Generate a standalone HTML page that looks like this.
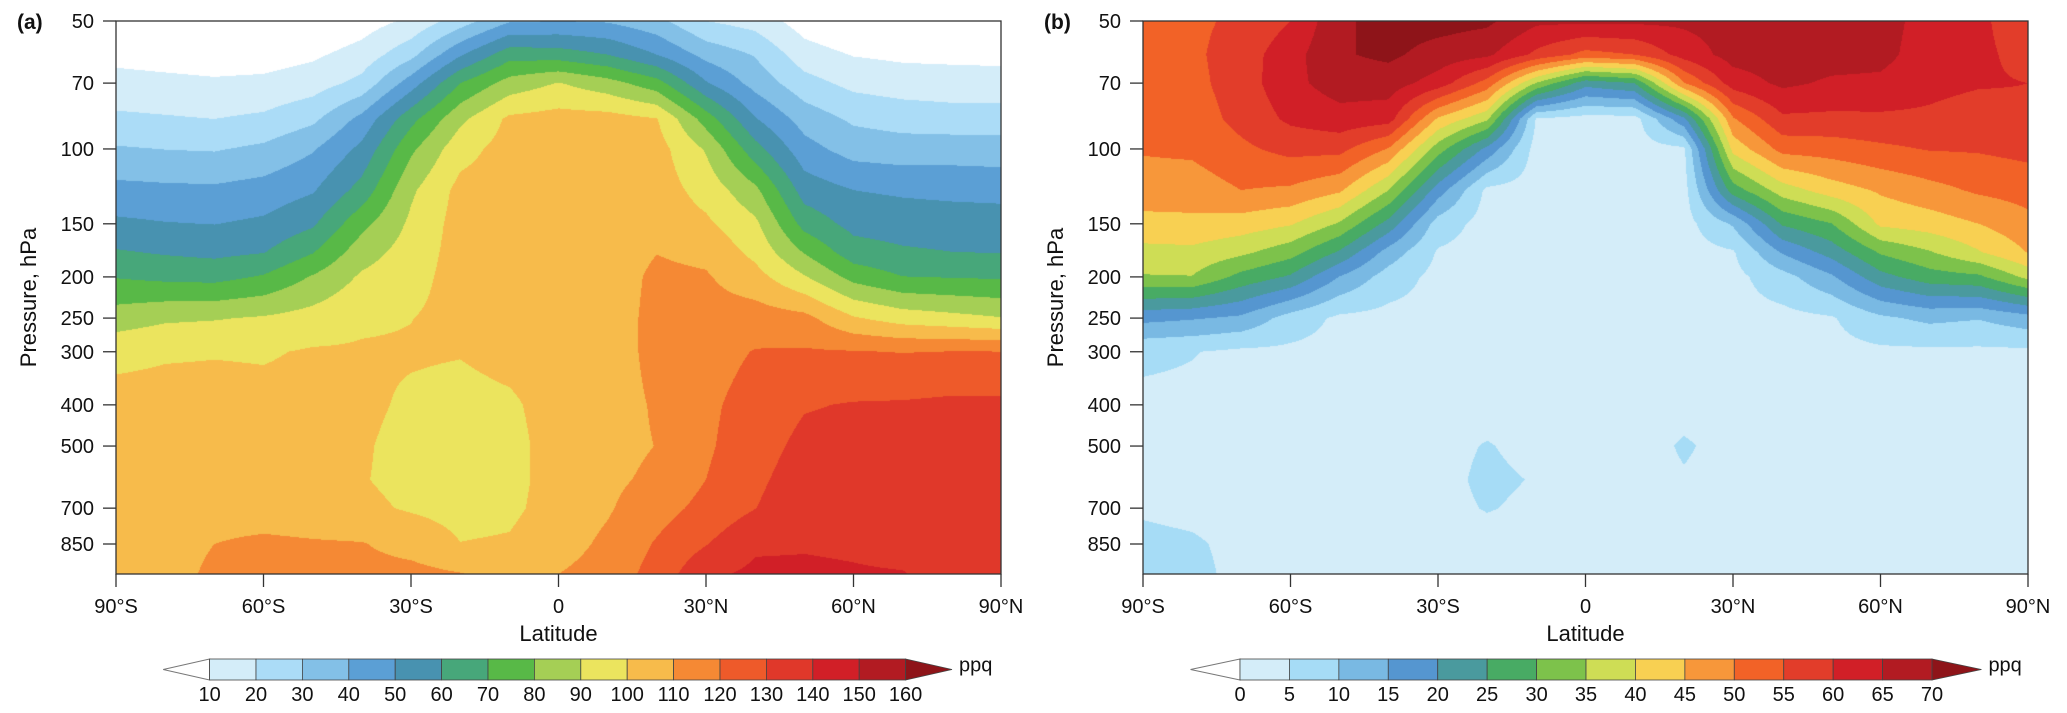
<!DOCTYPE html>
<html><head><meta charset="utf-8">
<style>
html,body{margin:0;padding:0;background:#fff;}
#root{position:relative;width:2067px;height:713px;overflow:hidden;font-family:"Liberation Sans",Arial,sans-serif;}
canvas{position:absolute;}
svg{position:absolute;left:0;top:0;}
</style></head>
<body>
<div id="root">
<canvas id="cA" width="885" height="553" style="left:116px;top:21px"></canvas>
<canvas id="cB" width="885" height="553" style="left:1143px;top:21px"></canvas>
<svg id="ov" width="2067" height="713"></svg>
</div>
<script>
const latitudes = [-90,-80,-70,-60,-50,-40,-30,-20,-10,0,10,20,30,40,50,60,70,80,90];
const pressureLevels = [50,60,70,85,100,125,150,175,200,250,300,400,500,600,700,850,1000];
const yTickLabels = [50,70,100,150,200,250,300,400,500,700,850];
const xTickValues = [-90,-60,-30,0,30,60,90];
const xTickLabels = ["90°S","60°S","30°S","0","30°N","60°N","90°N"];
const levelsA = [10,20,30,40,50,60,70,80,90,100,110,120,130,140,150,160];
const levelsB = [0,5,10,15,20,25,30,35,40,45,50,55,60,65,70];
const colorsA = ['#ffffff','#d4edf9','#abdcf7','#83c0e7','#5b9fd5','#4892b0','#47a77a','#58b947','#a5cf55','#ebe45e','#f7bb4b','#f58934','#ee5a2a','#e0382a','#d11f27','#b21b22','#8e1419'];
const colorsB = ['#ffffff','#d4edf9','#a6dcf6','#79b9e3','#5596d0','#4a9a9e','#48ab64','#7dc24b','#cedd55','#f8d052','#f7973a','#f26227','#e23d2a','#d11f27','#b21b22','#8e1419'];
// values per latitude column, ordered by pressureLevels (ppq)
const valuesA = [
[2,7,13.5,22,31,43,52,61,69.5,85,97,104,105,105,105,104,104],
[0,6,12.4,21,29.8,42.2,50.5,59,67.6,88.4,98.8,104,105,105,105,106,106],
[0,5,11.4,20,29.2,41.8,49.8,57.6,66.8,89.3,99.3,104,105,105,106,110,112],
[0,5.4,12.2,21.9,32,44,51.9,59.6,71,91,99,103,104,104,105,112,113],
[0,8.3,15.3,27.7,39,49,58.5,69.4,80.9,94,101,103,103,103,104,111,112],
[5,14,23,43,52.5,63.8,77,85.6,91.5,98.4,101,102,101,100.5,102,110.5,113],
[12,27,45,66.8,78,88.3,92,94.5,96.5,99.8,101,98.5,97,97.5,99,106.5,113],
[25,48.8,70,87.7,96.3,103,104,104,104,103,100.5,97,96,96.5,97,100.2,110.5],
[39,66,84,102,104,105,105,105,105,105,103,98.5,97,97,98,101,106],
[40,65,90.5,104,105,105,105,105,105,105,104,104,104,104,104,106,110],
[39,60,84,104,105,105,105,105,105,105,105,106,107,108,109,112,114],
[33,50,74,100.5,104,105,106,109.8,112,113,113,111,110.2,112,116,121,124],
[20,36.7,51,75.5,89,96.3,101.8,107.6,111,114,116,118,118.5,120,123,129.5,138],
[16,29.3,36.3,50.7,63.8,82.5,92.2,97.3,103.7,115,120.5,124,126,128,129.8,138.5,142],
[5,14.5,23.7,35.8,43.7,55.5,66.4,79.3,90.9,113,121,129.3,132.5,134.8,136.7,139,142],
[0,9.5,17.2,28.3,35.8,50,56.8,64.5,76.5,101,120.6,130.6,132.9,134.8,136.4,138.4,141],
[0,8,15,26,34.4,48.5,55.3,61.4,70.2,95.5,119.7,131,132.5,134,135,136.5,140.5],
[0,7.6,14.4,24.6,35,47.6,54.7,60.1,69.5,93,120.3,132,133,134,134.5,135,136],
[0,7.3,14,24.6,34.4,47.1,54.3,59.7,68.8,90.5,120.2,132,133,134,134,135,135]
];
const valuesB = [
[53,53,52.5,51.5,50.5,47.5,43.5,38.4,34.6,16.5,5.9,4,4,4,4.5,6,6.5],
[54,54,53.5,52.5,51,47.3,43.9,38.7,34.8,15.5,5.2,4,4,4,4,5.5,6],
[56,57.5,57.5,56.5,54,50,42.7,36.1,28.4,14,4,3.5,3.5,3.5,3.5,4,4],
[60,63,63.5,61,56.5,49.2,40.5,32,24.3,7.8,4,3.5,3.5,3.5,3.5,3.5,3.5],
[69,69.5,67.5,63,56.5,45.8,34.4,24.3,14.8,4,3.5,3.5,3.5,3.5,3.5,3.5,3.5],
[72,71,67.5,62,49.6,35,23.1,12.9,7.6,3.5,3.5,3.5,3.5,3.5,3.5,3.5,3.5],
[72,68,62.7,44.3,32.4,17.5,7.7,4.5,3.5,3.5,3.5,3.5,3.5,3.5,3.5,3.5,3.5],
[71,66,53,36,18.5,3.8,3,3,3,3,3,3,5.3,6,5.3,3,3],
[66,58.8,34.7,4.5,3,3,3,3,3,3,3,3,3.5,4.7,4,3,3],
[66,53.3,22,3,3,3,3,3,3,3,3,3,3,3,3,3,3],
[66,55,25,3,3,3,3,3,3,3,3,3,3,3,3,3,3],
[66,62,49.8,18.7,4,3,3,3,3,3,3,3.5,5.5,4.6,3,3,3],
[67,67,62.4,49.4,41.6,27.5,10.6,4.5,3.5,3.5,3.5,3.5,3.5,3.5,3.5,3.5,3.5],
[68,67.5,66,59,51.7,37.5,25.6,15.5,8,3.5,3.5,3.5,3.5,3.5,3.5,3.5,3.5],
[68,67,64.3,58.8,52.4,42.5,29.8,22,14.2,4.5,3.5,3.5,3.5,3.5,3.5,3.5,3.5],
[67,66.5,64,59,54,45.7,41,30.6,23.3,9,4,3.5,3.5,3.5,3.5,3.5,3.5],
[63,62.5,61.5,59,55.3,48.3,42.5,34.6,27.7,11.2,4,3.5,3.5,3.5,3.5,3.5,3.5],
[61,61,60.5,57.5,55.5,50.8,45,39.6,29,10.3,4,3.5,3.5,3.5,3.5,3.5,3.5],
[57,58.5,60,59,56.5,52,48.5,45.2,36.4,13,4,3.5,3.5,3.5,3.5,3.5,3.5]
];

const W=885,H=553,TOP=21;
const panels=[{id:'a',x0:116,canvas:'cA',vals:valuesA,levels:levelsA,colors:colorsA,cbLeft:209.6,cbStep:46.4},
              {id:'b',x0:1143,canvas:'cB',vals:valuesB,levels:levelsB,colors:colorsB,cbLeft:1240,cbStep:49.43}];
const PMIN=50,PMAX=1000;
function yFrac(p){return Math.log(p/PMIN)/Math.log(PMAX/PMIN);}
function xFrac(lat){return (lat+90)/180;}
function hex(c){return [parseInt(c.substr(1,2),16),parseInt(c.substr(3,2),16),parseInt(c.substr(5,2),16)];}

function fill(P){
  const cv=document.getElementById(P.canvas),ctx=cv.getContext('2d');
  const img=ctx.createImageData(W,H),d=img.data;
  const F=pressureLevels.map(yFrac);
  const L=latitudes.map(xFrac);
  const rgb=P.colors.map(hex);
  const lv=P.levels;
  for(let py=0;py<H;py++){
    const f=(py+0.5)/H;
    let k=0;while(k<F.length-2&&F[k+1]<f)k++;
    const ty=Math.min(1,Math.max(0,(f-F[k])/(F[k+1]-F[k])));
    for(let px=0;px<W;px++){
      const g=(px+0.5)/W;
      let i=0;while(i<L.length-2&&L[i+1]<g)i++;
      const tx=(g-L[i])/(L[i+1]-L[i]);
      const a=P.vals[i],b=P.vals[i+1];
      const v=(a[k]*(1-tx)+b[k]*tx)*(1-ty)+(a[k+1]*(1-tx)+b[k+1]*tx)*ty;
      let bin=0;while(bin<lv.length&&v>=lv[bin])bin++;
      const c=rgb[bin],o=(py*W+px)*4;
      d[o]=c[0];d[o+1]=c[1];d[o+2]=c[2];d[o+3]=255;
    }
  }
  ctx.putImageData(img,0,0);
}

const NS='http://www.w3.org/2000/svg';
const ov=document.getElementById('ov');
function mk(tag,attrs,parent){const e=document.createElementNS(NS,tag);for(const k in attrs)e.setAttribute(k,attrs[k]);(parent||ov).appendChild(e);return e;}

panels.forEach(P=>{
  fill(P);
  const g=mk('g',{});
  
  
  const fr=mk('rect',{x:P.x0,y:TOP,width:W,height:H,fill:'none',stroke:'#333','stroke-width':1.3},g);
  
  
  const pl=mk('text',{x:P.x0-99,y:TOP+8,'font-size':21,'font-weight':'bold',fill:'#111'},g);
  pl.textContent='('+P.id+')';
  
  
  yTickLabels.forEach(p=>{
    const y=TOP+H*yFrac(p);
    const t=mk('line',{x1:P.x0-13,x2:P.x0,y1:y,y2:y,stroke:'#333','stroke-width':1.3},g);
    
    
    const tx=mk('text',{x:P.x0-22,y:y+7,'font-size':20,'text-anchor':'end',fill:'#111'},g);
    tx.textContent=p;
    
    
  });
  xTickValues.forEach((lat,j)=>{
    const x=P.x0+W*xFrac(lat);
    const t=mk('line',{x1:x,x2:x,y1:TOP+H,y2:TOP+H+13,stroke:'#333','stroke-width':1.3},g);
    
    
    const tx=mk('text',{x:x,y:613,'font-size':20,'text-anchor':'middle',fill:'#111'},g);
    tx.textContent=xTickLabels[j];
    
    
  });
  const xt=mk('text',{x:P.x0+W/2,y:641,'font-size':22,'text-anchor':'middle',fill:'#111'},g);
  xt.textContent='Latitude';
  
  
  const yt=mk('text',{x:0,y:0,'font-size':22,'text-anchor':'middle',fill:'#111',transform:'translate('+(P.x0-80)+','+(TOP+H/2)+') rotate(-90)'},g);
  yt.textContent='Pressure, hPa';
  
  
  const cb=mk('g',{},g);
  
  
  const y1=659,y2=680,ym=(y1+y2)/2,n=P.levels.length;
  const L0=P.cbLeft,S=P.cbStep,R=L0+S*(n-1);
  const lt=mk('polygon',{points:(L0-S)+','+ym+' '+L0+','+y1+' '+L0+','+y2,fill:P.colors[0],stroke:'#777','stroke-width':1},cb);
  
  
  for(let i=0;i<n-1;i++){
    const r=mk('rect',{x:L0+i*S,y:y1,width:S,height:y2-y1,fill:P.colors[i+1],stroke:'#444','stroke-width':0.8},cb);
    
    
  }
  const rt=mk('polygon',{points:R+','+y1+' '+(R+S)+','+ym+' '+R+','+y2,fill:P.colors[n],stroke:'#444','stroke-width':0.8},cb);
  
  
  P.levels.forEach((v,i)=>{
    const t=mk('text',{x:L0+i*S,y:701,'font-size':20,'text-anchor':'middle',fill:'#111'},cb);
    t.textContent=v;
    
    
  });
  const u=mk('text',{x:R+S+7,y:ym+2,'font-size':20,fill:'#111'},cb);
  u.textContent='ppq';
  
  
});
</script>
</body></html>
